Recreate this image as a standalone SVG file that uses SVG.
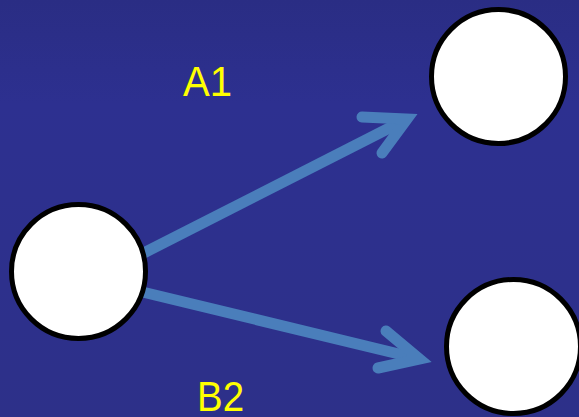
<svg xmlns="http://www.w3.org/2000/svg" width="579" height="417" viewBox="0 0 579 417">
  <style>
    .node { fill: #ffffff; stroke: #000000; stroke-width: 5; }
    .edge { fill: none; stroke: #4a7ebb; stroke-width: 11; stroke-linejoin: miter; }
    .head { fill: none; stroke: #4a7ebb; stroke-width: 11; stroke-linecap: round; stroke-linejoin: miter; }
    .label { fill: #ffff00; font-family: "Liberation Sans", Arial, sans-serif; font-size: 42px; }
  </style>
  <defs>
    <linearGradient id="bg" x1="0" y1="0" x2="0" y2="1">
      <stop offset="0" stop-color="#2a2d84"/>
      <stop offset="0.25" stop-color="#2d3090"/>
      <stop offset="1" stop-color="#2d3089"/>
    </linearGradient>
  </defs>
  <rect width="579" height="417" fill="url(#bg)"/>

  <g id="connectors">
    <!-- A1: left node to upper-right node -->
    <line class="edge" x1="130" y1="260" x2="407" y2="119"/>
    <polyline class="head" points="362,117 407,119 382,153"/>
    <!-- B2: left node to lower-right node -->
    <line class="edge" x1="130" y1="289" x2="419.5" y2="359"/>
    <polyline class="head" points="386,331 419.5,359 378,368"/>
  </g>

  <g id="node-left">
    <circle class="node" cx="78.5" cy="271.5" r="67"/>
  </g>
  <g id="node-top">
    <circle class="node" cx="498.5" cy="76.5" r="67"/>
  </g>
  <g id="node-bottom">
    <circle class="node" cx="513.5" cy="346.5" r="67"/>
  </g>

  <text class="label" x="183" y="96" textLength="49" lengthAdjust="spacingAndGlyphs">A1</text>
  <text class="label" x="197" y="411" textLength="47" lengthAdjust="spacingAndGlyphs">B2</text>
</svg>
